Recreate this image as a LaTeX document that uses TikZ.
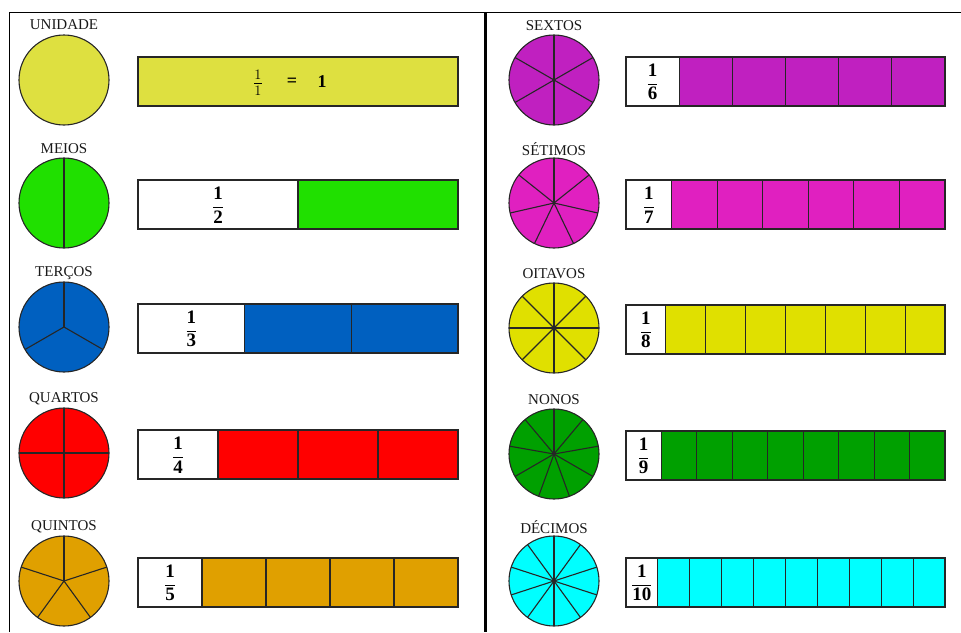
\documentclass[tikz,border=0pt]{standalone}
\usepackage{fontspec}
\setmainfont{Liberation Serif}
\usepackage{tikz}

\definecolor{cunidade}{RGB}{222,224,64}
\definecolor{cmeios}{RGB}{32,224,0}
\definecolor{ctercos}{RGB}{0,96,192}
\definecolor{cquartos}{RGB}{255,0,0}
\definecolor{cquintos}{RGB}{224,160,0}
\definecolor{csextos}{RGB}{192,32,192}
\definecolor{csetimos}{RGB}{224,32,192}
\definecolor{coitavos}{RGB}{224,224,0}
\definecolor{cnonos}{RGB}{0,160,0}
\definecolor{cdecimos}{RGB}{0,255,255}

\begin{document}
\begin{tikzpicture}[x=1pt,y=-1pt]
\tikzset{rotulo/.style={font=\fontsize{15}{15}\selectfont,text=black!90},
  corte/.style={draw=black!85,line width=1.1pt},
  fracao/.style={font=\fontsize{19}{19}\selectfont\bfseries,inner sep=0pt}}
\useasboundingbox (0,0) rectangle (961,632);

% moldura
\draw[line width=1pt] (9,632) -- (9,12) -- (961,12);
\draw[line width=3pt] (485,12) -- (485,632);

% unidade
\node[rotulo] (r1) at (64,25) {UNIDADE};
\draw[corte,fill=cunidade] (64,80) circle (45);
\draw[corte,fill=cunidade] (138,57) rectangle (458,106);
\node[inner sep=0pt,font=\fontsize{21}{21}\selectfont] (f1) at (258,83) {$\frac{1}{1}$};
\node[fracao,font=\fontsize{18}{18}\selectfont\bfseries] (ig) at (292,82) {=};
\node[fracao,font=\fontsize{18}{18}\selectfont\bfseries] (um) at (322,82) {1};

% coluna da esquerda
\foreach \nome/\n/\cor/\yc in {MEIOS/2/cmeios/203, TERÇOS/3/ctercos/327,
    QUARTOS/4/cquartos/453, QUINTOS/5/cquintos/581}{
  \node[rotulo] (r\n) at (64,\yc-54) {\nome};
  \fill[\cor] (64,\yc) circle (45);
  \foreach \k in {1,...,\n} \draw[corte] (64,\yc) -- ++(-90+\k*360/\n:45);
  \draw[corte] (64,\yc) circle (45);
  \fill[\cor] (138+320/\n,\yc-23) rectangle (458,\yc+26);
  \foreach \k in {1,...,\n} \draw[corte] (138+\k*320/\n,\yc-23) -- ++(0,49);
  \draw[corte] (138,\yc-23) rectangle (458,\yc+26);
  \node[fracao] (f\n) at (138+160/\n,\yc+2) {$\displaystyle\frac{\textbf{1}}{\textbf{\n}}$};
}

% coluna da direita
\foreach \nome/\n/\cor/\yc in {SEXTOS/6/csextos/80, SÉTIMOS/7/csetimos/203,
    OITAVOS/8/coitavos/328, NONOS/9/cnonos/454, DÉCIMOS/10/cdecimos/581}{
  \node[rotulo] (r\n) at (554,\yc-54) {\nome};
  \fill[\cor] (554,\yc) circle (45);
  \foreach \k in {1,...,\n} \draw[corte] (554,\yc) -- ++(-90+\k*360/\n:45);
  \draw[corte] (554,\yc) circle (45);
  \fill[\cor] (626+319/\n,\yc-23) rectangle (945,\yc+26);
  \foreach \k in {1,...,\n} \draw[corte] (626+\k*319/\n,\yc-23) -- ++(0,49);
  \draw[corte] (626,\yc-23) rectangle (945,\yc+26);
  \node[fracao] (f\n) at (626+159.5/\n,\yc+2) {$\displaystyle\frac{\textbf{1}}{\textbf{\n}}$};
}
\end{tikzpicture}
\end{document}
